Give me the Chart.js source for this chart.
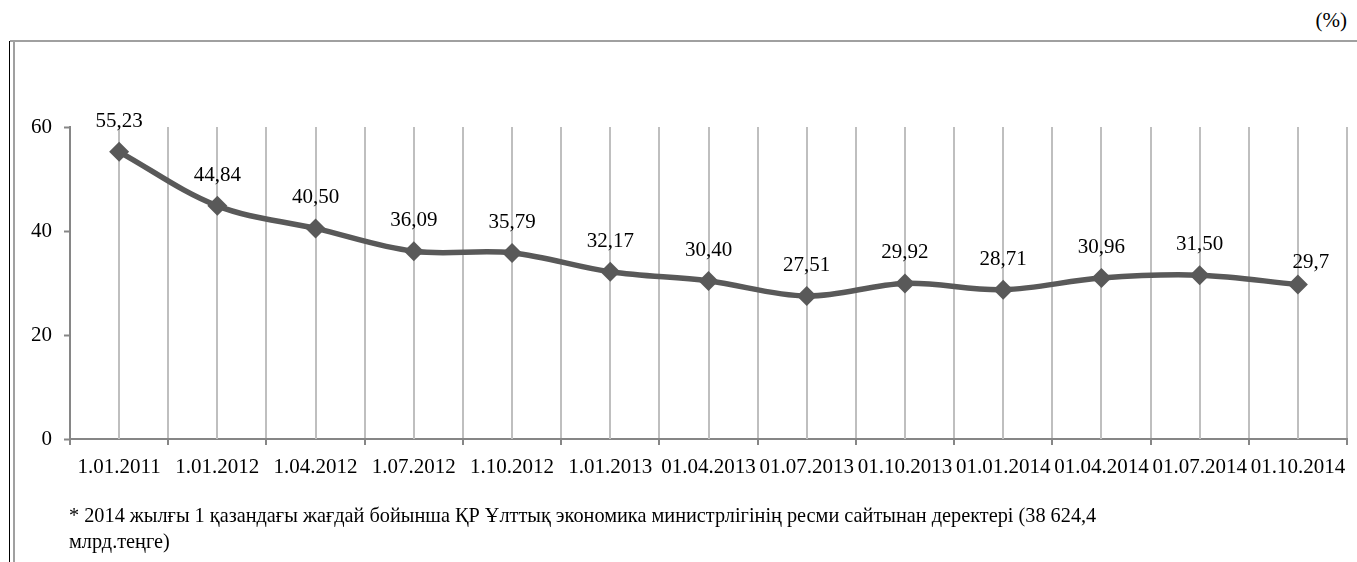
<!DOCTYPE html>
<html>
<head>
<meta charset="utf-8">
<script src="https://cdn.jsdelivr.net/npm/chart.js@4"></script>
<style>
  html, body { margin: 0; padding: 0; background: #fff; }
  body { width: 1357px; height: 562px; position: relative; overflow: hidden; font-family: 'Liberation Serif', 'Times New Roman', serif; color: #000; }
  #wrap { position: absolute; left: 0; top: 0; width: 1357px; height: 562px; }
  .vline-black { position: absolute; left: 9px; top: 41px; width: 1px; height: 521px; background: #000; }
  .vline-gray { position: absolute; left: 13px; top: 42px; width: 2px; height: 520px; background: #a0a0a0; }
  .hline-gray { position: absolute; left: 10px; top: 40px; width: 1347px; height: 2px; background: #a0a0a0; }
  .unit { position: absolute; right: 10px; top: 8px; font-size: 21px; line-height: 24px; }
  .note { position: absolute; left: 69px; top: 502px; font-size: 20.3px; line-height: 26px; white-space: nowrap; }
</style>
</head>
<body>
<div class="vline-black"></div>
<div class="vline-gray"></div>
<div class="hline-gray"></div>
<div class="unit">(%)</div>
<div id="wrap"><canvas id="c"></canvas></div>
<div class="note">* 2014 жылғы 1 қазандағы жағдай бойынша ҚР Ұлттық экономика министрлігінің ресми сайтынан деректері (38 624,4<br>млрд.теңге)</div>
<script>
const categories = ['1.01.2011', '1.01.2012', '1.04.2012', '1.07.2012', '1.10.2012', '1.01.2013', '01.04.2013', '01.07.2013', '01.10.2013', '01.01.2014', '01.04.2014', '01.07.2014', '01.10.2014'];
const values = [55.23, 44.84, 40.50, 36.09, 35.79, 32.17, 30.40, 27.51, 29.92, 28.71, 30.96, 31.50, 29.7];
const valueLabels = ['55,23', '44,84', '40,50', '36,09', '35,79', '32,17', '30,40', '27,51', '29,92', '28,71', '30,96', '31,50', '29,7'];
const yTicks = [0, 20, 40, 60];

const FONT = "'Liberation Serif', 'Times New Roman', serif";

const centerLines = {
  id: 'centerLines',
  beforeDatasetsDraw(chart) {
    const { ctx, chartArea, scales } = chart;
    const x = scales.x;
    ctx.save();
    ctx.strokeStyle = '#bfbfbf';
    ctx.lineWidth = 2;
    for (let i = 0; i < categories.length; i++) {
      const px = Math.round(x.getPixelForValue(i));
      ctx.beginPath();
      ctx.moveTo(px, chartArea.top);
      ctx.lineTo(px, chartArea.bottom);
      ctx.stroke();
    }
    ctx.restore();
  }
};

const valueText = {
  id: 'valueText',
  afterDatasetsDraw(chart) {
    const { ctx } = chart;
    const meta = chart.getDatasetMeta(0);
    ctx.save();
    ctx.font = '21px ' + FONT;
    ctx.fillStyle = '#000';
    ctx.textAlign = 'center';
    ctx.textBaseline = 'alphabetic';
    meta.data.forEach((pt, i) => {
      let dx = 0, dy = 25;
      if (i === valueLabels.length - 1) { dx = 13; dy = 17; }
      ctx.fillText(valueLabels[i], pt.x + dx, pt.y - dy);
    });
    ctx.restore();
  }
};

new Chart(document.getElementById('c'), {
  type: 'line',
  data: {
    labels: categories,
    datasets: [{
      data: values,
      borderColor: '#595959',
      backgroundColor: '#595959',
      borderWidth: 5.5,
      tension: 0.35,
      pointStyle: 'rectRot',
      pointRadius: 10,
      pointHoverRadius: 10,
      pointBackgroundColor: '#595959',
      pointBorderColor: '#595959',
      pointBorderWidth: 0,
      fill: false
    }]
  },
  options: {
    responsive: true,
    maintainAspectRatio: false,
    animation: false,
    events: [],
    layout: { padding: { top: 127, right: 10, bottom: 0, left: 0 } },
    plugins: { legend: { display: false }, tooltip: { enabled: false }, title: { display: false } },
    scales: {
      x: {
        type: 'category',
        offset: true,
        afterFit(scale) { scale.height = 123; },
        grid: {
          display: true,
          offset: true,
          drawOnChartArea: true,
          drawTicks: true,
          color: '#bfbfbf',
          lineWidth: 2,
          tickColor: '#868686',
          tickLength: 6,
          tickWidth: 2
        },
        border: { display: true, color: '#868686', width: 2 },
        ticks: {
          autoSkip: false,
          maxRotation: 0,
          minRotation: 0,
          padding: 10,
          color: '#000',
          font: { family: FONT, size: 21 }
        }
      },
      y: {
        min: 0,
        max: 60,
        afterFit(scale) { scale.width = 70; },
        afterBuildTicks(scale) { scale.ticks = yTicks.map(v => ({ value: v })); },
        grid: {
          display: true,
          drawOnChartArea: false,
          drawTicks: true,
          tickLength: 6,
          tickColor: '#868686',
          tickWidth: 2
        },
        border: { display: true, color: '#868686', width: 2 },
        ticks: {
          padding: 12,
          color: '#000',
          font: { family: FONT, size: 21 }
        }
      }
    }
  },
  plugins: [centerLines, valueText]
});
</script>
</body>
</html>
